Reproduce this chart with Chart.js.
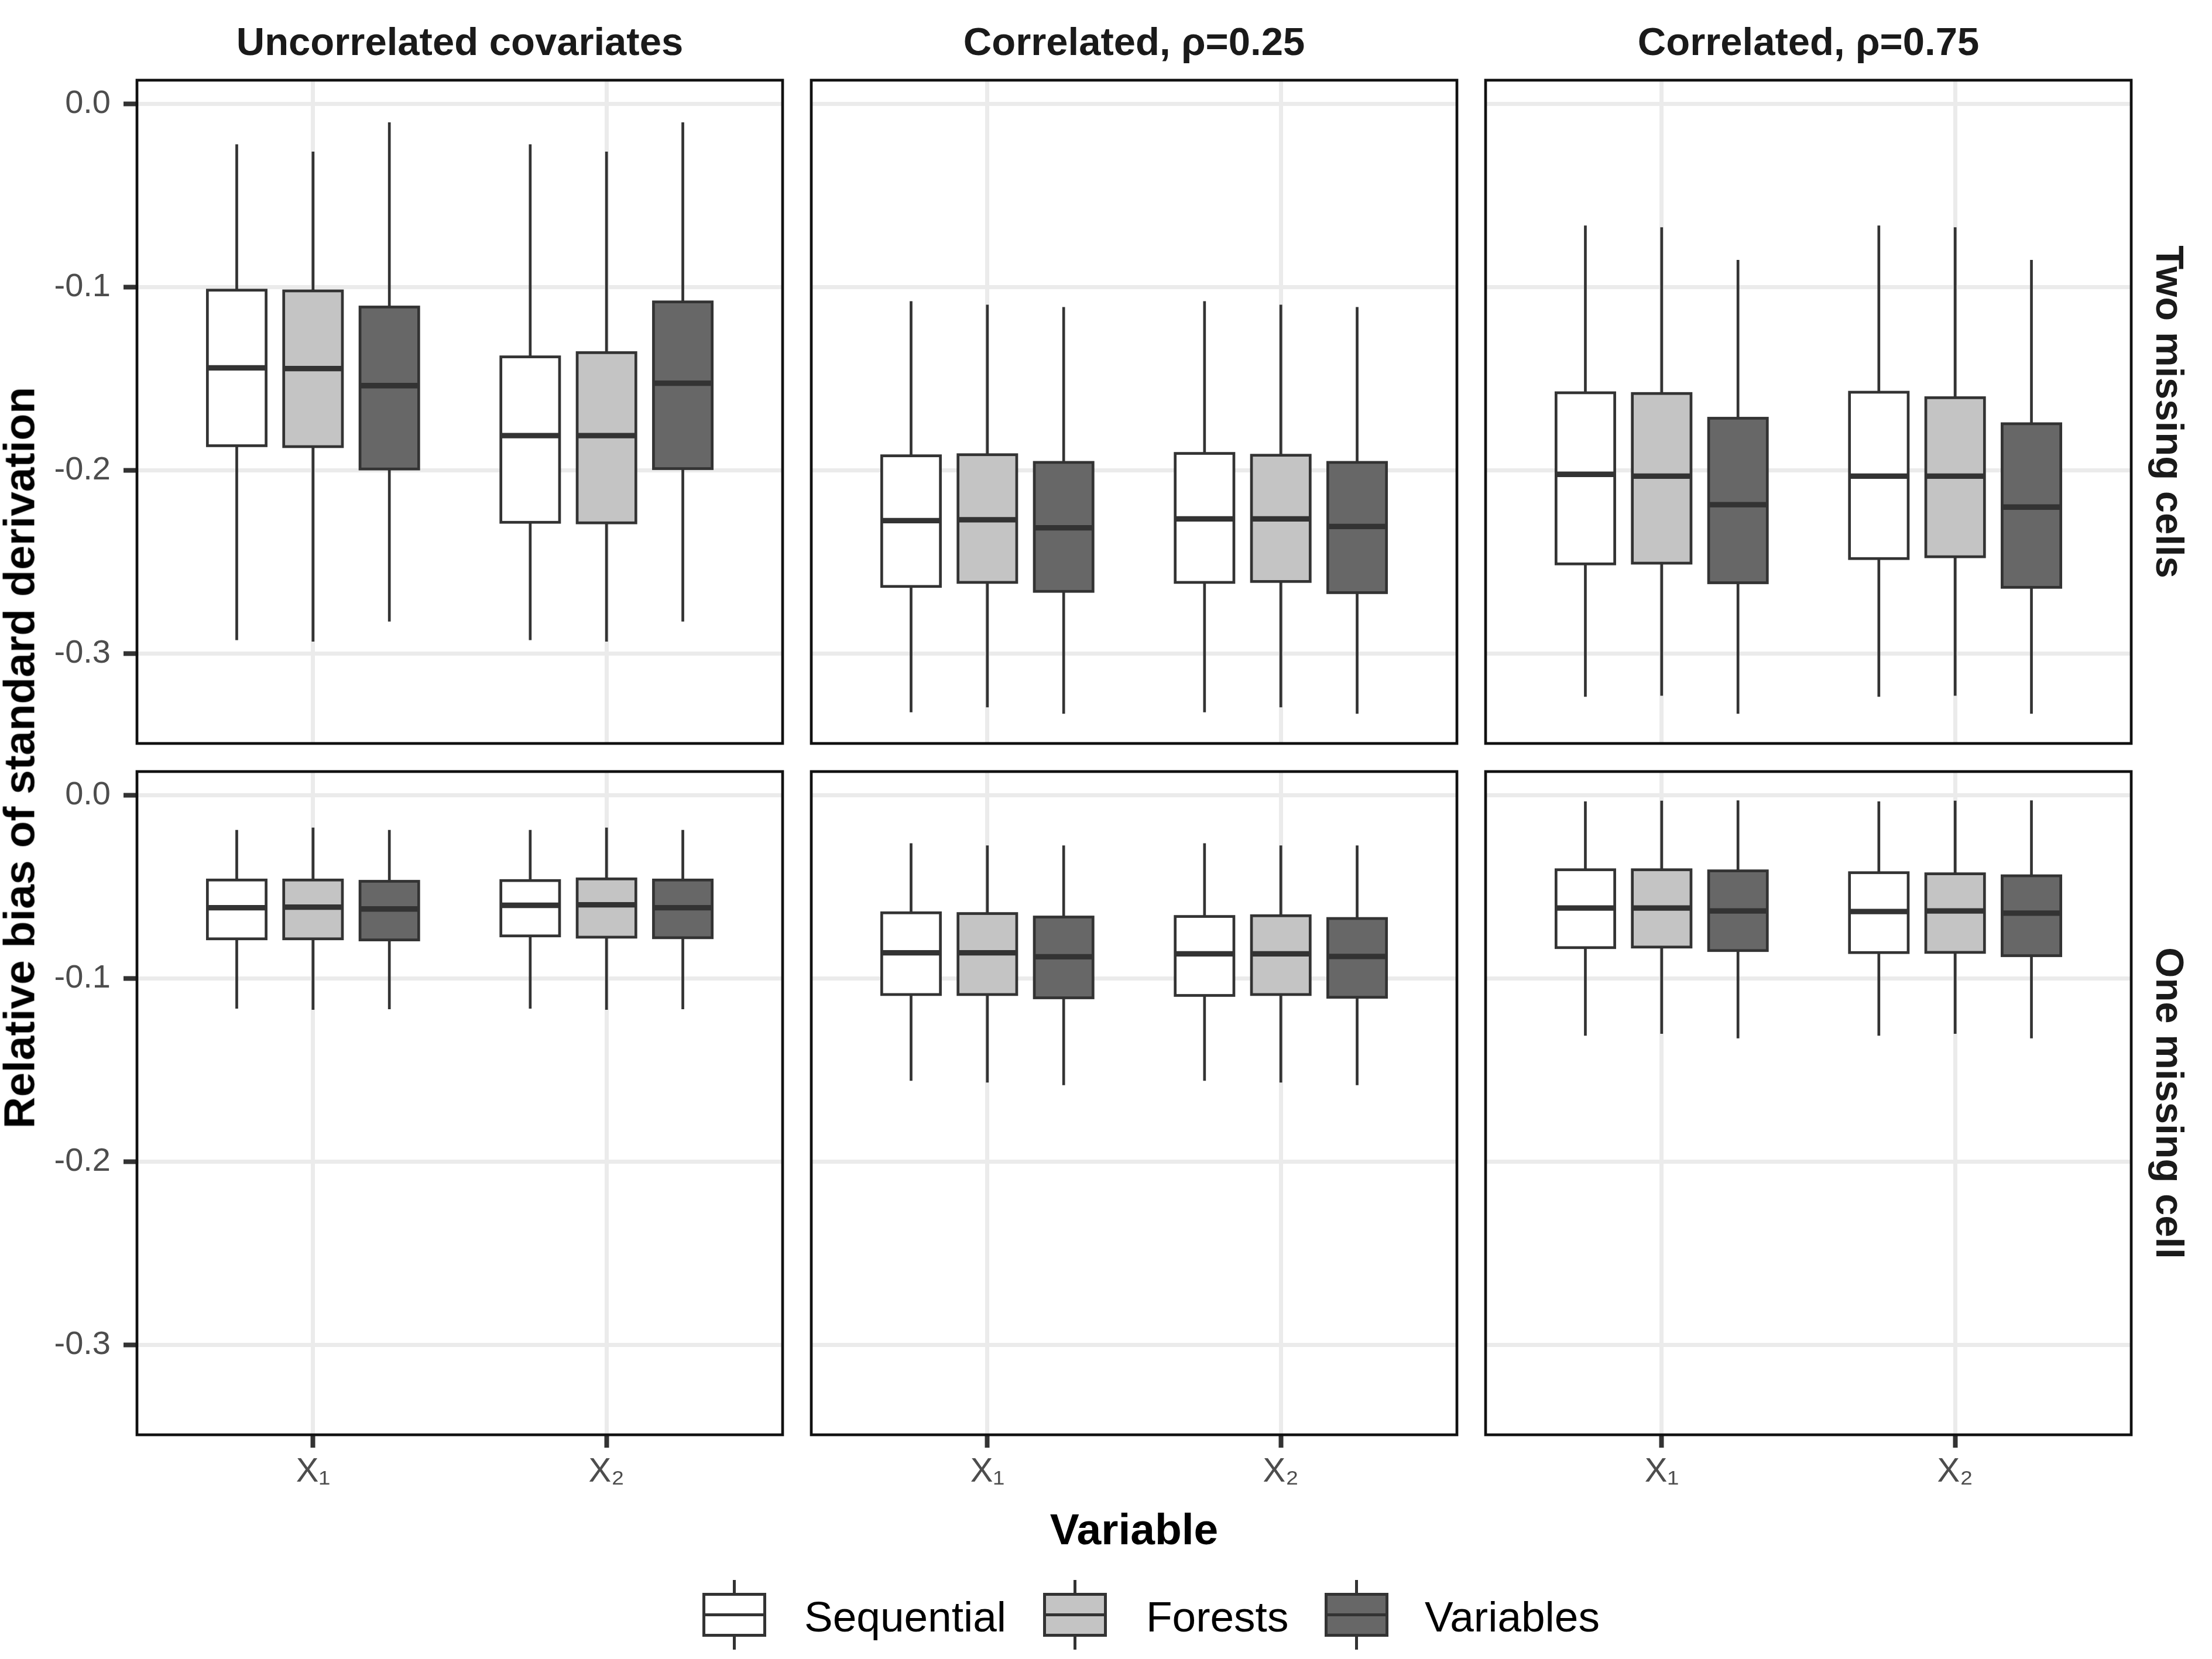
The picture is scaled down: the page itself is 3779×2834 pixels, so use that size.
<!DOCTYPE html>
<html>
<head>
<meta charset="utf-8">
<title>Relative bias of standard derivation</title>
<script src="https://cdn.jsdelivr.net/npm/chart.js@4.4.1/dist/chart.umd.min.js"></script>
<style>
	body { margin: 0; background: #fff; }
	#page {
		position: relative;
		width: 3779px;
		height: 2834px;
		overflow: hidden;
		background: #fff;
		font-family: "Liberation Sans", Arial, sans-serif;
	}
	.panel { position: absolute; }
	.label { position: absolute; white-space: nowrap; text-align: center; }
	.strip { font-size: 67px; line-height: 67px; height: 67px; font-weight: bold; color: #1a1a1a; }
	.title { font-size: 75px; line-height: 75px; height: 75px; font-weight: bold; color: #000; }
	.legend-text { position: absolute; white-space: nowrap; font-size: 73px; line-height: 73px; height: 73px; color: #000; }
	.key-part { position: absolute; box-sizing: border-box; }
</style>
</head>
<body>
<div id="page"></div>
<script>
// facets and categories
var columns = ["Uncorrelated covariates", "Correlated, ρ=0.25", "Correlated, ρ=0.75"];
var rows = ["Two missing cells", "One missing cell"];
var variables = ["X₁", "X₂"];
var methods = ["Sequential", "Forests", "Variables"];
var fills = ["#FFFFFF", "#C4C4C4", "#676767"];
var yTicks = [-0.3, -0.2, -0.1, 0];

// each box: [lower whisker, Q1, median, Q3, upper whisker]
// one row per method (Sequential, Forests, Variables), each row holds [X1, X2]
var twoUncorrelated = [
	[[-0.2926, -0.1865, -0.144, -0.1016, -0.022], [-0.2926, -0.2283, -0.181, -0.138, -0.022]],
	[[-0.2934, -0.187, -0.1444, -0.102, -0.026], [-0.2934, -0.2286, -0.181, -0.1357, -0.026]],
	[[-0.2825, -0.1992, -0.1537, -0.1108, -0.01], [-0.2825, -0.199, -0.1524, -0.108, -0.01]],
];
var twoRho25 = [
	[[-0.332, -0.2633, -0.2274, -0.192, -0.1076], [-0.332, -0.2611, -0.2264, -0.1907, -0.1076]],
	[[-0.3293, -0.2611, -0.2269, -0.1914, -0.1095], [-0.3293, -0.2606, -0.2264, -0.1917, -0.1095]],
	[[-0.3328, -0.266, -0.2313, -0.1956, -0.1108], [-0.3328, -0.2667, -0.2306, -0.1956, -0.1108]],
];
var twoRho75 = [
	[[-0.3235, -0.251, -0.2021, -0.1576, -0.0663], [-0.3235, -0.2481, -0.2031, -0.1573, -0.0663]],
	[[-0.323, -0.2506, -0.2031, -0.158, -0.0673], [-0.323, -0.2471, -0.2031, -0.1603, -0.0673]],
	[[-0.3328, -0.2613, -0.2187, -0.1715, -0.0851], [-0.3328, -0.2638, -0.22, -0.1745, -0.0851]],
];
var oneUncorrelated = [
	[[-0.1164, -0.0783, -0.0613, -0.0462, -0.0189], [-0.1164, -0.0767, -0.06, -0.0465, -0.0189]],
	[[-0.117, -0.0783, -0.061, -0.0462, -0.0176], [-0.117, -0.0774, -0.0597, -0.0456, -0.0176]],
	[[-0.1167, -0.0789, -0.062, -0.0469, -0.0189], [-0.1167, -0.0777, -0.0613, -0.0462, -0.0189]],
];
var oneRho25 = [
	[[-0.1558, -0.1087, -0.0859, -0.0641, -0.0261], [-0.1558, -0.1092, -0.0865, -0.0661, -0.0261]],
	[[-0.1567, -0.1087, -0.0859, -0.0645, -0.0273], [-0.1567, -0.1087, -0.0865, -0.0657, -0.0273]],
	[[-0.1582, -0.1105, -0.0881, -0.0664, -0.0273], [-0.1582, -0.1102, -0.0879, -0.0672, -0.0273]],
];
var oneRho75 = [
	[[-0.1312, -0.0831, -0.0615, -0.0406, -0.0033], [-0.1312, -0.0858, -0.0634, -0.0422, -0.0033]],
	[[-0.1301, -0.0828, -0.0615, -0.0406, -0.0029], [-0.1301, -0.0857, -0.0631, -0.0428, -0.0029]],
	[[-0.1326, -0.0847, -0.0631, -0.0412, -0.0027], [-0.1326, -0.0875, -0.0643, -0.0439, -0.0027]],
];

var panels = [
	[twoUncorrelated, twoRho25, twoRho75],
	[oneUncorrelated, oneRho25, oneRho75],
];

// layout (px)
var panelLeft = [234, 1386, 2538];
var panelTop = [137, 1318];
var panelW = 1103;
var panelH = 1133;
var axisW = 234;
var axisH = 110;
var pad = 10;
var dodge = 0.26;
var boxWidth = 0.2;

Chart.defaults.font.family = "'Liberation Sans', Arial, sans-serif";

var page = document.getElementById("page");

// draws the boxplots from the stats stored on each point
var boxPlugin = {
	id: "boxes",
	afterDatasetsDraw: function (chart) {
		var ctx = chart.ctx;
		var xs = chart.scales.x;
		var ys = chart.scales.y;
		ctx.save();
		ctx.strokeStyle = "#333333";
		ctx.lineCap = "butt";
		ctx.lineJoin = "miter";
		chart.data.datasets.forEach(function (ds) {
			ds.data.forEach(function (pt) {
				var s = pt.stats.map(function (v) {
					return ys.getPixelForValue(v);
				});
				var xc = xs.getPixelForValue(pt.x);
				var x0 = xs.getPixelForValue(pt.x - boxWidth / 2);
				var x1 = xs.getPixelForValue(pt.x + boxWidth / 2);

				ctx.lineWidth = 4.7;
				ctx.beginPath();
				ctx.moveTo(xc, s[0]);
				ctx.lineTo(xc, s[1]);
				ctx.moveTo(xc, s[3]);
				ctx.lineTo(xc, s[4]);
				ctx.stroke();

				ctx.fillStyle = ds.backgroundColor;
				ctx.fillRect(x0, s[3], x1 - x0, s[1] - s[3]);
				ctx.strokeRect(x0, s[3], x1 - x0, s[1] - s[3]);

				ctx.lineWidth = 9.3;
				ctx.beginPath();
				ctx.moveTo(x0, s[2]);
				ctx.lineTo(x1, s[2]);
				ctx.stroke();
			});
		});
		ctx.restore();
	},
};

// panel border on top of everything
var framePlugin = {
	id: "frame",
	afterDraw: function (chart) {
		var a = chart.chartArea;
		var ctx = chart.ctx;
		ctx.save();
		ctx.strokeStyle = "#111111";
		ctx.lineWidth = 4.7;
		ctx.strokeRect(a.left, a.top, a.right - a.left, a.bottom - a.top);
		ctx.restore();
	},
};

function noPadding(s) {
	s.paddingTop = 0;
	s.paddingBottom = 0;
	s.paddingLeft = 0;
	s.paddingRight = 0;
}

function makeConfig(stats, showY, showX) {
	return {
		type: "scatter",
		data: {
			datasets: methods.map(function (name, m) {
				return {
					label: name,
					backgroundColor: fills[m],
					pointRadius: 0,
					data: variables.map(function (v, i) {
						return { x: i + 1 + (m - 1) * dodge, y: stats[m][i][2], stats: stats[m][i] };
					}),
				};
			}),
		},
		options: {
			responsive: true,
			maintainAspectRatio: false,
			animation: false,
			events: [],
			layout: { padding: { top: pad, right: pad, left: 0, bottom: 0 } },
			plugins: {
				legend: { display: false },
				tooltip: { enabled: false },
			},
			scales: {
				x: {
					type: "linear",
					min: 0.4,
					max: 2.6,
					afterBuildTicks: function (s) {
						s.ticks = variables.map(function (v, i) {
							return { value: i + 1 };
						});
					},
					afterFit: function (s) {
						s.height = axisH;
						noPadding(s);
					},
					ticks: {
						display: showX,
						autoSkip: false,
						maxRotation: 0,
						padding: 7,
						color: "#4D4D4D",
						font: { size: 58 },
						callback: function (v) {
							return variables[v - 1];
						},
					},
					grid: {
						color: "#EBEBEB",
						lineWidth: 7,
						drawTicks: showX,
						tickLength: 22,
						tickColor: "#333333",
						tickWidth: 8,
					},
					border: { display: false },
				},
				y: {
					type: "linear",
					min: -0.349,
					max: 0.013,
					afterBuildTicks: function (s) {
						s.ticks = yTicks.map(function (v) {
							return { value: v };
						});
					},
					afterFit: function (s) {
						s.width = axisW;
						noPadding(s);
					},
					ticks: {
						display: showY,
						padding: 22,
						color: "#4D4D4D",
						font: { size: 56 },
						callback: function (v) {
							return v.toFixed(1);
						},
					},
					grid: {
						color: "#EBEBEB",
						lineWidth: 7,
						drawTicks: showY,
						tickLength: 23,
						tickColor: "#333333",
						tickWidth: 8,
					},
					border: { display: false },
				},
			},
		},
		plugins: [boxPlugin, framePlugin],
	};
}

function addLabel(cls, text, left, top, width, transform) {
	var el = document.createElement("div");
	el.className = "label " + cls;
	el.textContent = text;
	el.style.left = left + "px";
	el.style.top = top + "px";
	el.style.width = width + "px";
	if (transform) el.style.transform = transform;
	page.appendChild(el);
	return el;
}

rows.forEach(function (rowName, r) {
	columns.forEach(function (colName, c) {
		var div = document.createElement("div");
		div.className = "panel";
		div.style.left = panelLeft[c] - axisW + "px";
		div.style.top = panelTop[r] - pad + "px";
		div.style.width = axisW + panelW + pad + "px";
		div.style.height = pad + panelH + axisH + "px";
		var canvas = document.createElement("canvas");
		div.appendChild(canvas);
		page.appendChild(div);
		new Chart(canvas, makeConfig(panels[r][c], c === 0, r === rows.length - 1));
	});
});

// strip labels
columns.forEach(function (name, c) {
	addLabel("strip", name, panelLeft[c], 37, panelW);
});
rows.forEach(function (name, r) {
	var cy = panelTop[r] + panelH / 2;
	addLabel("strip", name, 3707 - panelH / 2, cy - 33.5, panelH, "rotate(90deg)");
});

// axis titles
addLabel("title", "Variable", 1937.5 - 500, 2575, 1000);
addLabel("title", "Relative bias of standard derivation", 33 - 900, 1294 - 37.5, 1800, "rotate(-90deg)");

// legend
var keyLeft = [1200, 1782, 2263];
var textLeft = [1374, 1958, 2434];
methods.forEach(function (name, m) {
	var parts = [
		{ l: keyLeft[m] + 52, t: 2699, w: 5, h: 23, bg: "#333333" },
		{ l: keyLeft[m] + 52, t: 2795, w: 5, h: 23, bg: "#333333" },
		{ l: keyLeft[m], t: 2721, w: 109, h: 75, bg: fills[m], border: "5px solid #333333" },
		{ l: keyLeft[m], t: 2756, w: 109, h: 5, bg: "#333333" },
	];
	parts.forEach(function (p) {
		var el = document.createElement("div");
		el.className = "key-part";
		el.style.left = p.l + "px";
		el.style.top = p.t + "px";
		el.style.width = p.w + "px";
		el.style.height = p.h + "px";
		el.style.background = p.bg;
		if (p.border) el.style.border = p.border;
		page.appendChild(el);
	});
	var txt = document.createElement("div");
	txt.className = "legend-text";
	txt.textContent = name;
	txt.style.left = textLeft[m] + "px";
	txt.style.top = "2725px";
	page.appendChild(txt);
});
</script>
</body>
</html>
